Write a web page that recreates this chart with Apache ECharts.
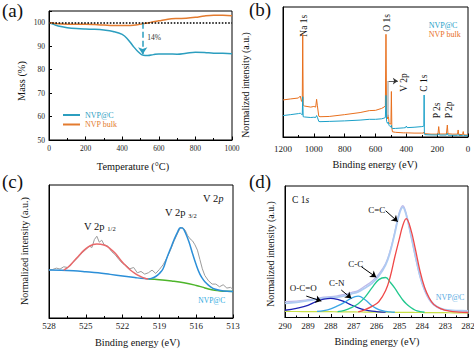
<!DOCTYPE html>
<html><head><meta charset="utf-8">
<script src="https://cdn.jsdelivr.net/npm/echarts@6/dist/echarts.min.js"></script>
<style>html,body{margin:0;padding:0;background:#fff}#c{width:474px;height:349px}</style>
</head><body><div id="c"></div>
<script>
// ---------- (a) TGA ----------
const tgaTemp = [0,25,50,100,150,200,250,300,350,400,430,460,490,515,540,570,600,650,700,750,800,850,900,950,1000];
const tgaNVPC = [100,99.3,98.6,97.9,97.5,97.3,97.2,96.9,96.3,95,93,90,87.4,86.1,86.0,86.4,86.7,86.7,86.6,87.0,87.4,87.3,87.0,87.0,86.8];
const tgaBulk = [100,99.8,99.6,99.4,99.3,99.3,99.2,99.0,98.8,98.8,98.8,98.9,99.2,99.6,99.9,100.4,100.8,101.5,101.8,101.9,102.3,102.9,103.2,103.2,103.0];
// ---------- (b) XPS survey ----------
const surveyEnergy = [1200,1150,1100,1088,1080,1075,1072,1069,1060,1020,1000,988,982,977,968,960,900,800,700,640,600,560,545,536,532,528,522,517,512,505,500,497,494,490,470,420,405,400,395,350,300,290,286,284.5,283,280,240,195,190,185,140,134,130,100,68,64,60,35,31,27,0];
const surveyBulk = [28.5,29.3,30,31.5,27.5,27.5,79,24.5,23.8,23,23.5,23,29,24,16,15.6,15.8,17.2,18.8,20.3,20.5,22,23,24,79,18,14,17,11,10,10,35,7,4,3.6,3.2,3.2,3.4,3.2,3,3,3,3.8,3.5,2.6,2.4,2.2,2.2,8,2.3,2.3,9.2,2.5,2.2,2.2,5.4,2,1.8,4.2,1.6,1.5];
const surveyNVPC = [16.5,17.2,18,18.3,17.5,17,31,15.6,15.4,15,15.2,15,16.5,15.2,12,11.8,12,12.4,13,13.6,13.6,14,14.5,15,32,12,10.5,11.5,9,8,7.8,9,7,6.5,6.6,7,7.2,8.4,7.2,7.5,8,8.2,8.5,32.3,2.5,1.8,1.6,1.5,2.5,1.5,1.5,2.8,1.4,1.3,1.3,2,1.2,1.2,1.6,1.1,1];
// ---------- (c) V 2p ----------
const v2pRawE = [528,527.7,527.4,527.1,526.8,526.5,526.2,525.9,525.6,525.3,525.0,524.7,524.5,524.3,524.1,523.9,523.7,523.5,523.2,522.9,522.6,522.3,522.0,521.7,521.4,521.1,520.8,520.5,520.2,519.9,519.6,519.3,519.0,518.7,518.4,518.1,517.8,517.5,517.3,517.1,516.9,516.7,516.5,516.3,516.1,515.9,515.7,515.5,515.3,515.0,514.7,514.4,514.1,513.8,513.5,513.2,513.0];
const v2pRaw = [36,36.5,37.5,36.8,38.5,38,40.5,43,46,49,51.5,54,53,59,61.5,57,58.5,55,54,50,47.5,44,41,39.5,37,38,34,35,33,34,36,33.5,36.5,40,45,51,58,64,67.5,68,66,62,59.5,58,55,51,44,37,32,28,25.5,25.5,23.5,25,22.5,23,21.5];
const v2pBgE = [528,527,526,525,524,523,522,521,520.5,519.9];
const v2pBg = [36,35.9,35.5,34.8,34,32.8,31.6,30.4,29.8,29.3];
const v2pBg2E = [519.9,519,518,517,516,515.5,515,514.5,514,513.5,513];
const v2pBg2 = [29.3,28.8,27.8,26.5,24.5,23.2,21.8,20.8,20.3,20.1,20];
const v2p12E = [526.8,526.4,526,525.6,525.2,524.8,524.4,524.1,523.8,523.4,523,522.6,522.2,521.8,521.4,521,520.6,520.2,519.9];
const v2p12 = [36,38.5,42.5,46.5,50.5,53.5,55.3,55.6,55.5,54.5,52,48.6,44,39.8,36.3,33.6,31.5,29.9,29.3];
const v2p32E = [519.9,519.6,519.3,519.0,518.7,518.4,518.1,517.8,517.5,517.3,517.1,516.9,516.6,516.3,516.0,515.7,515.4,515.1,514.8,514.5,514.0,513.5,513.0];
const v2p32 = [29.3,30,31.2,33.5,37,45,52,59,65,67.9,67.5,64.5,57.5,48.5,40,33,28.5,25.5,23.3,21.8,20.6,20.1,20];
// ---------- (d) C 1s ----------
const c1sE = [290,289.5,289,288.6,288.3,288,287.7,287.4,287.1,286.8,286.5,286.2,285.9,285.6,285.4,285.2,285.0,284.85,284.7,284.5,284.3,284.1,283.9,283.7,283.5,283.2,282.8,282.4,282];
const c1sRaw = [12,12.5,13.5,14.5,15.5,15.8,16.5,17.5,19,20.5,24,27.5,33,41,51,65,80,85,79,63,46,31,20.5,13.5,9.5,6.5,5.2,4.8,4.6];
const c1sEnvelope = [10.8,11.5,12.8,14,14.8,15.2,15.5,16.5,18,19.5,22.5,26,31.5,40,50,64,79,83.8,78,63,47,32,21.5,14.5,10.2,7,5.5,5.2,5];
const c1sBaseline = [4.6,4.55,4.5,4.45,4.42,4.4,4.35,4.3,4.25,4.2,4.15,4.1,4.05,4.0,3.98,3.95,3.92,3.9,3.88,3.85,3.82,3.8,3.77,3.75,3.72,3.68,3.62,3.56,3.5];
const c1sOCO = [5.5,7,9.2,12.5,14,14.6,13.8,12,9.5,7.4,5.8,4.8,4.3,4.1,null,null,null,null,null,null,null,null,null,null,null,null,null,null,null];
const c1sCN = [null,null,null,4.6,5.2,6.5,8.8,11.5,14.8,16.2,13.5,9,6,4.6,4.2,4.0,null,null,null,null,null,null,null,null,null,null,null,null,null];
const c1sCC = [null,null,null,null,null,null,4.4,5.5,7.5,10.5,15.5,22.5,28.8,30.4,26.8,22.3,17,13.3,10.5,7.6,5.5,4.5,4.0,null,null,null,null,null,null];
const c1sCeqC = [null,null,null,null,null,null,null,null,null,4.2,6.0,8.5,12,20.5,31,46,60,70,75.2,67,52,35.5,23,15,10,6.8,4.8,4.1,3.8];

const FONT = '"Liberation Serif", "Times New Roman", "DejaVu Serif", serif';
const TEAL_A = '#2C9EBF', ORANGE_A = '#E37B2F';
const TEAL_B = '#1BA0C8', ORANGE_B = '#E8701E';
const zip = (xs, ys) => xs.map((x, i) => [x, ys[i]]);

function xAx(gi, min, max, interval, inverse, fs, margin, minorSplit) {
  return { type: 'value', gridIndex: gi, min, max, interval, inverse,
    axisLine: { show: true, onZero: false, lineStyle: { color: '#000', width: 1 } },
    axisTick: { show: true, inside: true, length: 3.5, lineStyle: { color: '#000' } },
    minorTick: { show: true, splitNumber: minorSplit, length: 2, lineStyle: { color: '#000' } },
    splitLine: { show: false }, minorSplitLine: { show: false },
    axisLabel: { fontSize: fs, color: '#222', margin, fontFamily: FONT, formatter: v => String(v) } };
}
function yPlain(gi) {
  return { type: 'value', gridIndex: gi, min: 0, max: 100,
    axisLine: { show: true, onZero: false, lineStyle: { color: '#000', width: 1 } },
    axisTick: { show: false }, axisLabel: { show: false }, splitLine: { show: false } };
}
function line(name, xi, data, color, width, smooth, extra) {
  return Object.assign({ type: 'line', name, xAxisIndex: xi, yAxisIndex: xi, data,
    showSymbol: false, symbol: 'none', smooth, lineStyle: { color, width }, itemStyle: { color },
    silent: true, animation: false }, extra || {});
}
function txt(text, x, y, size, opts) {
  opts = opts || {};
  const st = { text, fontSize: size, fontFamily: FONT, fill: opts.color || '#111',
    textAlign: opts.align || 'center', textVerticalAlign: 'middle',
    align: opts.align || 'center', verticalAlign: 'middle' };
  if (opts.rich) st.rich = opts.rich;
  return { type: 'text', x, y, rotation: opts.rot || 0, style: st, silent: true };
}
const ROT = Math.PI / 2;
const richSub = { a: { fontSize: 10.5, fontFamily: FONT, fill: '#111' }, s: { fontSize: 6.5, fontFamily: FONT, fill: '#111', verticalAlign: 'bottom', padding: [5, 0, 0, 0] }, i: { fontSize: 10, fontFamily: FONT, fontStyle: 'italic', fill: '#111' } };

const option = {
  animation: false,
  textStyle: { fontFamily: FONT },
  grid: [
    { left: 49, top: 11, width: 183, height: 129, show: true, borderColor: '#000', borderWidth: 1, outerBoundsMode: 'none' },
    { left: 283, top: 7, width: 185, height: 130, show: true, borderColor: '#000', borderWidth: 1, outerBoundsMode: 'none' },
    { left: 49, top: 185, width: 184, height: 133, show: true, borderColor: '#000', borderWidth: 1, outerBoundsMode: 'none' },
    { left: 285, top: 186, width: 183, height: 131.5, show: true, borderColor: '#000', borderWidth: 1, outerBoundsMode: 'none' }
  ],
  xAxis: [
    xAx(0, 0, 1000, 200, false, 7.5, 4, 2),
    xAx(1, 0, 1200, 200, true, 9, 7.5, 2),
    xAx(2, 513, 528, 3, true, 9, 3.5, 2),
    xAx(3, 282, 290, 1, true, 9, 3.5, 2)
  ],
  yAxis: [
    { type: 'value', gridIndex: 0, min: 50, max: 105, interval: 10,
      axisLine: { show: true, onZero: false, lineStyle: { color: '#000' } },
      axisTick: { show: true, inside: true, length: 3, lineStyle: { color: '#000' } },
      splitLine: { show: false }, showMaxLabel: false,
      axisLabel: { fontSize: 7.5, color: '#222', margin: 4, fontFamily: FONT, formatter: v => (v % 10 === 0 ? String(v) : '') } },
    yPlain(1), yPlain(2), yPlain(3)
  ],
  legend: {
    left: 58, top: 106, orient: 'vertical', itemWidth: 17, itemHeight: 2, icon: 'rect', itemGap: 1.5,
    textStyle: { fontSize: 8, fontFamily: FONT, padding: [0, 0, 0, 0] },
    data: [{ name: 'NVP@C', textStyle: { color: TEAL_A } }, { name: 'NVP bulk', textStyle: { color: ORANGE_A } }]
  },
  series: [
    line('NVP@C', 0, zip(tgaTemp, tgaNVPC), TEAL_A, 1.5, 0.4, {
      markLine: { silent: true, symbol: ['none', 'arrow'], symbolSize: 7, animation: false,
        lineStyle: { type: 'dashed', color: TEAL_A, width: 1.5 }, label: { show: false },
        data: [[{ coord: [512, 100] }, { coord: [512, 86.6] }]] } }),
    line('NVP bulk', 0, zip(tgaTemp, tgaBulk), ORANGE_A, 1.5, 0.4, {
      markLine: { silent: true, symbol: 'none', animation: false,
        lineStyle: { type: 'dotted', color: '#000', width: 1.6 }, label: { show: false },
        data: [{ yAxis: 100 }] } }),
    line('NVP bulk', 1, zip(surveyEnergy, surveyBulk), ORANGE_B, 1, false, {
      markLine: { silent: true, symbol: ['none', 'arrow'], symbolSize: 5, animation: false,
        lineStyle: { type: 'solid', color: '#333', width: 0.8 }, label: { show: false },
        data: [[{ coord: [519, 43] }, { coord: [455, 43] }]] } }),
    line('NVP@C', 1, zip(surveyEnergy, surveyNVPC), TEAL_B, 1, false, {
      markLine: { silent: true, symbol: 'none', animation: false,
        lineStyle: { type: 'solid', color: '#b8b8b8', width: 1.5 }, label: { show: false },
        data: [[{ coord: [519, 15.4] }, { coord: [519, 43] }]] } }),
    line('raw', 2, zip(v2pRawE, v2pRaw), '#9c9c9c', 1, false),
    line('bg1', 2, zip(v2pBgE, v2pBg), '#2C8FD8', 1.5, 0.4),
    line('bg2', 2, zip(v2pBg2E, v2pBg2), '#4DB52A', 1.5, 0.4),
    line('2p1/2', 2, zip(v2p12E, v2p12), '#E8696B', 1.5, 0.4),
    line('2p3/2', 2, zip(v2p32E, v2p32), '#2C8FD8', 1.5, 0.4),
    line('raw d', 3, zip(c1sE, c1sRaw), '#BDB9EA', 1.3, 0.4),
    line('env', 3, zip(c1sE, c1sEnvelope), '#AECBF2', 1.8, 0.4),
    line('base', 3, zip(c1sE, c1sBaseline), '#C8E048', 1.2, 0.4, {
      markLine: { silent: true, symbol: ['none', 'arrow'], symbolSize: 6, animation: false,
        lineStyle: { type: 'solid', color: '#000', width: 1 }, label: { show: false },
        data: [
          [{ coord: [285.6, 81.2] }, { coord: [285.07, 72.9] }],
          [{ coord: [286.66, 38.6] }, { coord: [286.01, 30.6] }],
          [{ coord: [287.54, 20.9] }, { coord: [287.1, 14.6] }],
          [{ coord: [289.07, 16.3] }, { coord: [288.41, 12.5] }]
        ] } }),
    line('O-C=O', 3, zip(c1sE, c1sOCO), '#1E22B4', 1.3, 0.4),
    line('C-N', 3, zip(c1sE, c1sCN), '#3AA6E6', 1.3, 0.4),
    line('C-C', 3, zip(c1sE, c1sCC), '#22C88E', 1.3, 0.4),
    line('C=C', 3, zip(c1sE, c1sCeqC), '#F04848', 1.3, 0.4)
  ],
  graphic: [
    txt('(a)', 2, 10, 19, { align: 'left' }),
    txt('(b)', 249, 9, 19, { align: 'left' }),
    txt('(c)', 2, 181, 19, { align: 'left' }),
    txt('(d)', 249, 181, 19, { align: 'left' }),
    txt('Mass (%)', 21.7, 81, 10.3, { rot: ROT }),
    txt('Temperature (°C)', 133, 166.5, 10.3),
    txt('14%', 154, 37.7, 7.5, { color: '#333' }),
    txt('Normalized intensity (a.u.)', 245, 85, 9.8, { rot: ROT }),
    txt('Binding energy (eV)', 375, 164.5, 10.3),
    txt('Na 1s', 303.5, 36.7, 9.5, { rot: ROT, align: 'left' }),
    txt('O 1s', 387, 31.7, 9.5, { rot: ROT, align: 'left' }),
    txt('V 2p', 403.5, 91.7, 9.5, { rot: ROT, align: 'left' }),
    txt('C 1s', 423.7, 91.7, 9.5, { rot: ROT, align: 'left' }),
    txt('P 2s', 437, 118.3, 9.5, { rot: ROT, align: 'left' }),
    txt('P 2p', 448.7, 118.3, 9.5, { rot: ROT, align: 'left' }),
    txt('NVP@C', 428.7, 25, 8, { align: 'left', color: TEAL_B }),
    txt('NVP bulk', 428.7, 34.3, 8, { align: 'left', color: ORANGE_B }),
    txt('Normalized intensity (a.u.)', 24, 251, 10, { rot: ROT }),
    txt('Binding energy (eV)', 137.5, 342.5, 10.3),
    txt('{a|V 2p }{s|1/2}', 84, 226, 10.5, { align: 'left', rich: richSub }),
    txt('{a|V 2p }{s|3/2}', 165, 212.5, 10.5, { align: 'left', rich: richSub }),
    txt('{a|V 2}{i|p}', 203, 198, 10, { align: 'left', rich: richSub }),
    txt('NVP@C', 198.3, 300.3, 7.5, { align: 'left', color: '#2AA8E0' }),
    txt('Normalized intensity (a.u.)', 270.3, 254, 9.8, { rot: ROT }),
    txt('Binding energy (eV)', 377, 341, 10.3),
    txt('{a|C 1}{i|s}', 292, 200, 9.5, { align: 'left', rich: { a: { fontSize: 9.5, fontFamily: FONT, fill: '#111' }, i: { fontSize: 9.5, fontFamily: FONT, fontStyle: 'italic', fill: '#111' } } }),
    txt('C=C', 376.7, 210, 9),
    txt('C-C', 355.8, 264, 9),
    txt('C-N', 336.7, 283.3, 9),
    txt('O-C=O', 303.3, 288.3, 9),
    txt('NVP@C', 450, 297.7, 8, { color: '#5AAAE2' })
  ]
};
const chart = echarts.init(document.getElementById('c'), null, { renderer: 'svg' });
chart.setOption(option);
</script></body></html>
